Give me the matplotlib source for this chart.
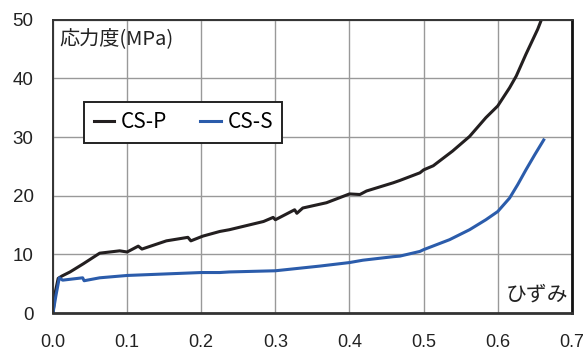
import numpy as np
import matplotlib
matplotlib.use("Agg")
import matplotlib.pyplot as plt

plt.rcParams['font.family'] = ['Noto Sans CJK JP', 'DejaVu Sans']

# -----------------------------
# Data
# -----------------------------
strain_p = [0.0, 0.003, 0.007, 0.012, 0.023, 0.041, 0.063, 0.090, 0.100, 0.115, 0.120,
            0.153, 0.182, 0.186, 0.202, 0.225, 0.238, 0.284, 0.297, 0.300, 0.326, 0.329,
            0.337, 0.369, 0.400, 0.414, 0.423, 0.459, 0.468, 0.495, 0.500, 0.513, 0.539,
            0.562, 0.584, 0.600, 0.616, 0.625, 0.638, 0.654, 0.662]
stress_p = [0.0, 3.5, 5.9, 6.3, 7.0, 8.4, 10.2, 10.6, 10.4, 11.4, 10.9,
            12.3, 12.9, 12.3, 13.1, 13.9, 14.2, 15.6, 16.3, 15.9, 17.6, 17.0,
            17.9, 18.8, 20.3, 20.2, 20.8, 22.2, 22.6, 23.9, 24.4, 25.1, 27.6,
            30.1, 33.3, 35.3, 38.4, 40.4, 44.1, 48.4, 51.0]

strain_s = [0.0, 0.004, 0.0085, 0.013, 0.040, 0.042, 0.063, 0.100, 0.200, 0.225, 0.238,
            0.300, 0.360, 0.400, 0.418, 0.459, 0.468, 0.495, 0.500, 0.535, 0.562, 0.584,
            0.600, 0.616, 0.627, 0.638, 0.650, 0.662]
stress_s = [0.0, 3.0, 6.0, 5.6, 6.0, 5.5, 6.0, 6.4, 6.9, 6.9, 7.0,
            7.2, 8.0, 8.6, 9.0, 9.6, 9.7, 10.5, 10.8, 12.5, 14.2, 15.9,
            17.3, 19.6, 21.9, 24.4, 27.0, 29.5]

x_ticks = [0.0, 0.1, 0.2, 0.3, 0.4, 0.5, 0.6, 0.7]
y_ticks = [0, 10, 20, 30, 40, 50]

# -----------------------------
# Plot
# -----------------------------
fig = plt.figure(figsize=(5.83, 3.5), dpi=100)
ax = fig.add_axes([0.0909, 0.1057, 0.890, 0.838])

ax.plot(strain_p, stress_p, color='#231f20', lw=2.2, label='CS-P')
ax.plot(strain_s, stress_s, color='#2b5cab', lw=2.2, label='CS-S')

ax.set_xlim(0, 0.7)
ax.set_ylim(0, 50)
ax.set_xticks(x_ticks)
ax.set_xticklabels([f'{v:.1f}' for v in x_ticks])
ax.set_yticks(y_ticks)
ax.grid(True, color='#999999', lw=1.0)
ax.set_axisbelow(True)
ax.tick_params(axis='x', length=0, pad=15)
ax.tick_params(axis='y', length=0, pad=14)
for lab in ax.get_xticklabels():
    lab.set_family('Liberation Sans')
    lab.set_fontsize(13)
    lab.set_color('#222222')
for lab in ax.get_yticklabels():
    lab.set_family('Liberation Sans')
    lab.set_fontsize(13.5)
    lab.set_color('#222222')

for side in ['left', 'bottom', 'right', 'top']:
    ax.spines[side].set_color('#333333')
    ax.spines[side].set_linewidth(1.4)
ax.spines['right'].set_color('#111111')
ax.spines['right'].set_linewidth(2.0)
ax.spines['bottom'].set_linewidth(2.0)

ax.text(0.012, 0.97, '応力度(MPa)', transform=ax.transAxes, ha='left', va='top',
        fontsize=14.5, color='#222222')
ax.text(0.994, 0.025, 'ひずみ', transform=ax.transAxes, ha='right', va='bottom',
        fontsize=15, color='#222222')

leg = ax.legend(loc='upper left', bbox_to_anchor=(0.06, 0.72), borderaxespad=0,
                ncol=2, fontsize=15, frameon=True, fancybox=False,
                handlelength=1.0, handletextpad=0.3, columnspacing=1.6, borderpad=0.45)
leg.get_frame().set_edgecolor('#222222')
leg.get_frame().set_linewidth(1.4)
leg.get_frame().set_alpha(1)

plt.savefig('out.png', dpi=100)
